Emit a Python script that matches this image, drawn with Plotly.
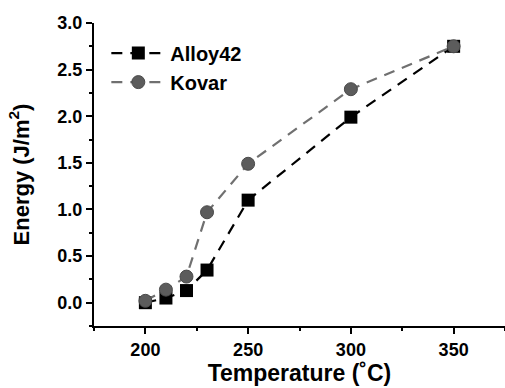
import plotly.graph_objects as go

temps = [200, 210, 220, 230, 250, 300, 350]
alloy42 = [0.0, 0.05, 0.13, 0.35, 1.10, 1.99, 2.75]
kovar = [0.02, 0.14, 0.28, 0.97, 1.49, 2.29, 2.75]
x_ticks = [200, 250, 300, 350]
y_ticks = [0, 0.5, 1.0, 1.5, 2.0, 2.5, 3.0]

FONT = "Liberation Sans, Arial, sans-serif"

fig = go.Figure()
fig.add_trace(go.Scatter(
    x=temps, y=alloy42, name="Alloy42", mode="lines+markers",
    line=dict(color="black", width=2.2, dash="11px,8px"),
    marker=dict(symbol="square", size=13, color="black"),
))
fig.add_trace(go.Scatter(
    x=temps, y=kovar, name="Kovar", mode="lines+markers",
    line=dict(color="#707070", width=2.2, dash="11px,8px"),
    marker=dict(symbol="circle", size=13, color="#5c5c5c", line=dict(color="#4a4a4a", width=1)),
))

axis_common = dict(
    showline=True, linecolor="black", linewidth=2, ticks="outside", ticklen=6,
    tickwidth=2, tickcolor="black", showgrid=False, zeroline=False,
    tickfont=dict(family=FONT, size=18, color="black", weight="bold"),
)

fig.update_xaxes(
    range=[175, 375], tickvals=x_ticks, ticktext=[str(v) for v in x_ticks],
    title=dict(text="Temperature (˚C)", font=dict(family=FONT, size=23, color="black", weight="bold"), standoff=5),
    minor=dict(tickvals=[175, 225, 275, 325, 375], ticks="outside", ticklen=3, tickwidth=2, tickcolor="black"),
    **axis_common,
)
fig.update_yaxes(
    range=[-0.25, 3.0], tickvals=y_ticks, ticktext=[f"{v:.1f}" for v in y_ticks],
    title=dict(text="Energy (J/m<sup>2</sup>)", font=dict(family=FONT, size=22, color="black", weight="bold"), standoff=22),
    minor=dict(tickvals=[-0.25, 0.25, 0.75, 1.25, 1.75, 2.25, 2.75], ticks="outside", ticklen=3, tickwidth=2, tickcolor="black"),
    **axis_common,
)

fig.update_layout(
    width=505, height=388,
    margin=dict(l=94, r=0, t=23, b=62),
    plot_bgcolor="white", paper_bgcolor="white",
    legend=dict(x=0.03, y=0.965, xanchor="left", yanchor="top", bgcolor="rgba(0,0,0,0)",
                font=dict(family=FONT, size=20, color="black", weight="bold"), itemwidth=54, tracegroupgap=0),
)

fig.write_html("out.html", config={"displayModeBar": False},
               post_script="document.body.style.margin='0px';document.body.style.overflow='hidden';")
